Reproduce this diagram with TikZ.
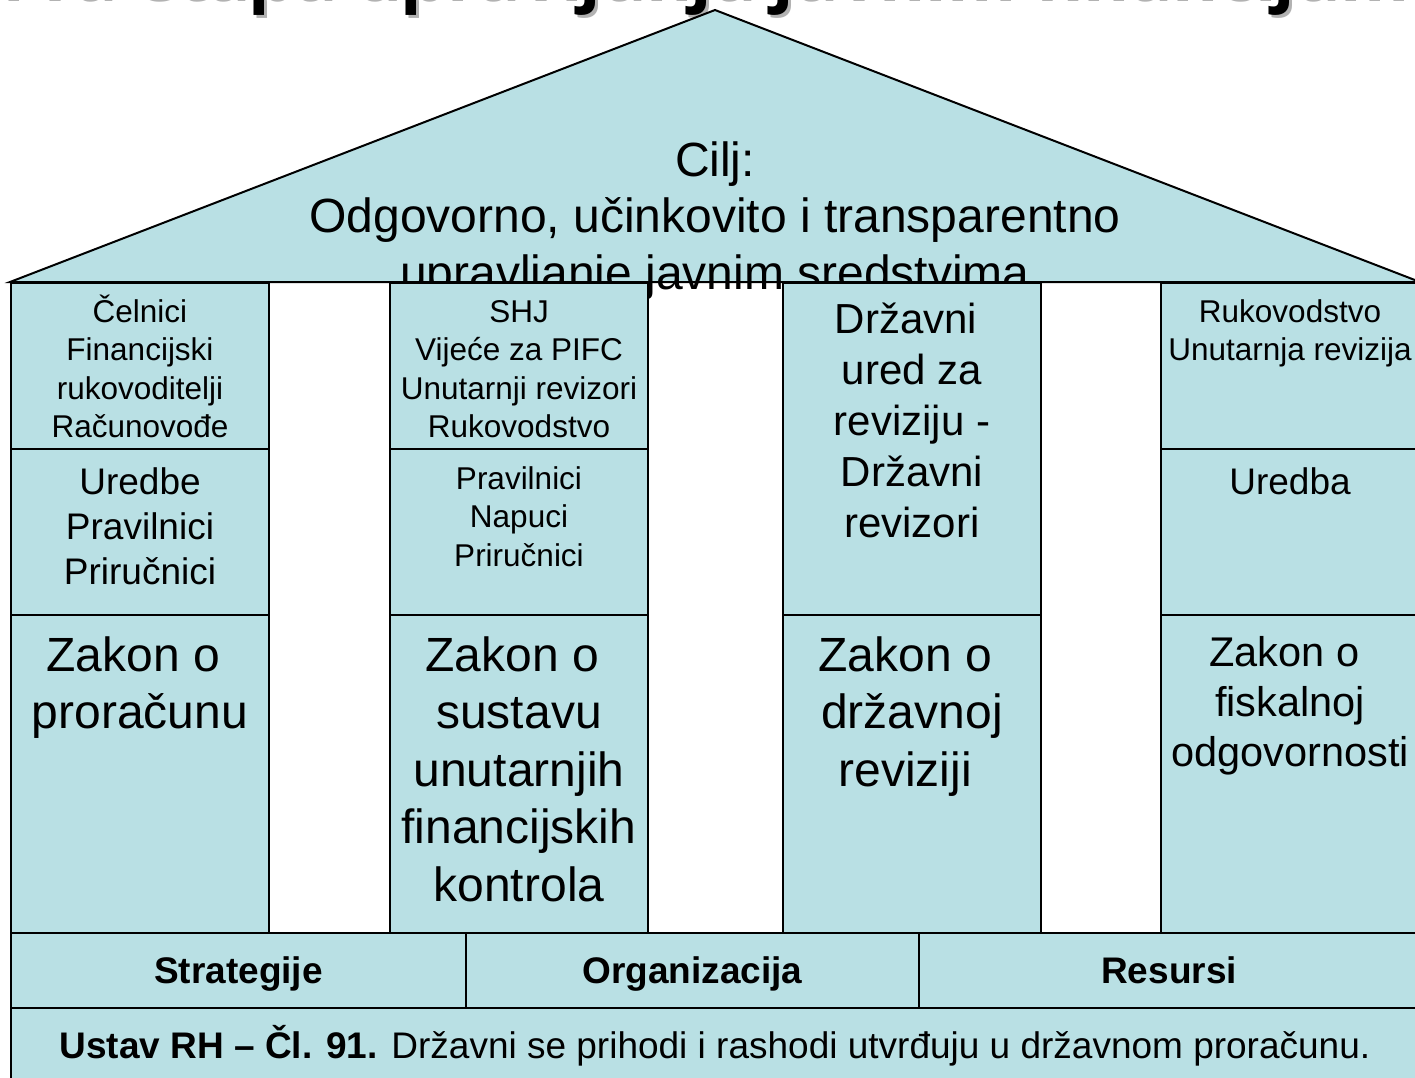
\documentclass[tikz,border=0pt]{standalone}
\usepackage{fontspec}
\setmainfont{Liberation Sans}
\newfontfamily\titlefont{Open Sans}
\usetikzlibrary{positioning}
\definecolor{pillarblue}{RGB}{185,224,228}
\newcommand\trail{\hspace*{.28em}}
\newcommand\tstrut{\rule{0pt}{1em}}
\tikzstyle{box}=[draw=black, fill=pillarblue, line width=2pt, rectangle, inner sep=0pt, anchor=north west, minimum width=258pt]
\tikzstyle{txt}=[align=center, inner sep=0pt]
\tikzstyle{ftiny}=[txt, font=\fontsize{31.5}{38.5}\selectfont]
\tikzstyle{fmid}=[txt, font=\fontsize{37}{45}\selectfont]
\tikzstyle{fstate}=[txt, font=\fontsize{42}{51}\selectfont]
\tikzstyle{flaw}=[txt, font=\fontsize{48}{57.5}\selectfont]
\tikzstyle{flawsmall}=[txt, font=\fontsize{41.5}{50}\selectfont]
\tikzstyle{fbase}=[txt, font=\fontsize{37}{45}\selectfont]
\tikzstyle{ftitle}=[anchor=base, inner sep=0pt, font=\titlefont\bfseries\fontsize{70.5}{72}\selectfont]
\begin{document}
\begin{tikzpicture}[x=1pt, y=-1pt]
  \useasboundingbox (0,0) rectangle (1415,1077);
  \clip (0,0) rectangle (1415,1077);
  % title, cut off by the page edge
  \node[ftitle, text=black!30] (titleshadow) at (706,1) {Prva etapa upravljanja javnim financijama};
  \node[ftitle] (title) at (703,-2) {Prva etapa upravljanja javnim financijama};
  % roof
  \coordinate (apex) at (715,10);
  \draw[line width=2pt, fill=pillarblue] (10,282) -- (apex) -- (1420,282) -- cycle;
  \node[flaw, font=\fontsize{48}{56.5}\selectfont, below=118pt of apex] (goal) {\tstrut Cilj:\\Odgovorno, učinkovito i transparentno\\upravljanje javnim sredstvima};
  % pillars
  \node[box, minimum height=166pt] (c1top) at (10,282) {};
  \node[box, minimum height=166pt] (c1mid) at (10,448) {};
  \node[box, minimum height=318pt] (c1law) at (10,614) {};
  \node[box, minimum height=166pt] (c2top) at (389,282) {};
  \node[box, minimum height=166pt] (c2mid) at (389,448) {};
  \node[box, minimum height=318pt] (c2law) at (389,614) {};
  \node[box, minimum height=332pt] (c3top) at (782,282) {};
  \node[box, minimum height=318pt] (c3law) at (782,614) {};
  \node[box, minimum height=166pt] (c4top) at (1160,282) {};
  \node[box, minimum height=166pt] (c4mid) at (1160,448) {};
  \node[box, minimum height=318pt] (c4law) at (1160,614) {};
  \node[ftiny, below=8.5pt of c1top.north] (t1top) {\tstrut Čelnici\\Financijski\trail\\rukovoditelji\\Računovođe};
  \node[fmid, below=9pt of c1mid.north] (t1mid) {\tstrut Uredbe\\Pravilnici\\Priručnici};
  \node[flaw, below=9pt of c1law.north] (t1law) {\tstrut Zakon o\trail\\proračunu};
  \node[ftiny, below=8.5pt of c2top.north] (t2top) {\tstrut SHJ\\Vijeće za PIFC\\Unutarnji revizori\\Rukovodstvo};
  \node[ftiny, below=9.5pt of c2mid.north] (t2mid) {\tstrut Pravilnici\\Napuci\\Priručnici};
  \node[flaw, below=9pt of c2law.north] (t2law) {\tstrut Zakon o\trail\\sustavu\\unutarnjih\\financijskih\\kontrola};
  \node[fstate, below=9pt of c3top.north] (t3top) {\tstrut Državni\trail\\ured za\\reviziju -\trail\\Državni\trail\\revizori};
  \node[flaw, below=9pt of c3law.north] (t3law) {\tstrut Zakon o\trail\\državnoj\\reviziji\trail};
  \node[ftiny, below=8.5pt of c4top.north] (t4top) {\tstrut Rukovodstvo\\Unutarnja revizija};
  \node[fmid, below=9pt of c4mid.north] (t4mid) {\tstrut Uredba};
  \node[flawsmall, below=10.5pt of c4law.north] (t4law) {\tstrut Zakon o\trail\\fiskalnoj\\odgovornosti};
  % base
  \node[box, minimum width=455pt, minimum height=75pt] (strat) at (10,932) {};
  \node[box, minimum width=453pt, minimum height=75pt] (org) at (465,932) {};
  \node[box, minimum width=500pt, minimum height=75pt] (res) at (918,932) {};
  \node[box, minimum width=1408pt, minimum height=90pt] (ustav) at (10,1007) {};
  \node[fbase, font=\fontsize{37}{45}\selectfont\bfseries, below=14pt of strat.north] (tstrat) {\tstrut Strategije};
  \node[fbase, font=\fontsize{37}{45}\selectfont\bfseries, below=14pt of org.north] (torg) {\tstrut Organizacija};
  \node[fbase, font=\fontsize{37}{45}\selectfont\bfseries, below=14pt of res.north] (tres) {\tstrut Resursi};
  \node[fbase, below=14pt of ustav.north] (tustav) {\tstrut\textbf{Ustav RH – Čl. 91.} Državni se prihodi i rashodi utvrđuju u državnom proračunu.};
\end{tikzpicture}
\end{document}
